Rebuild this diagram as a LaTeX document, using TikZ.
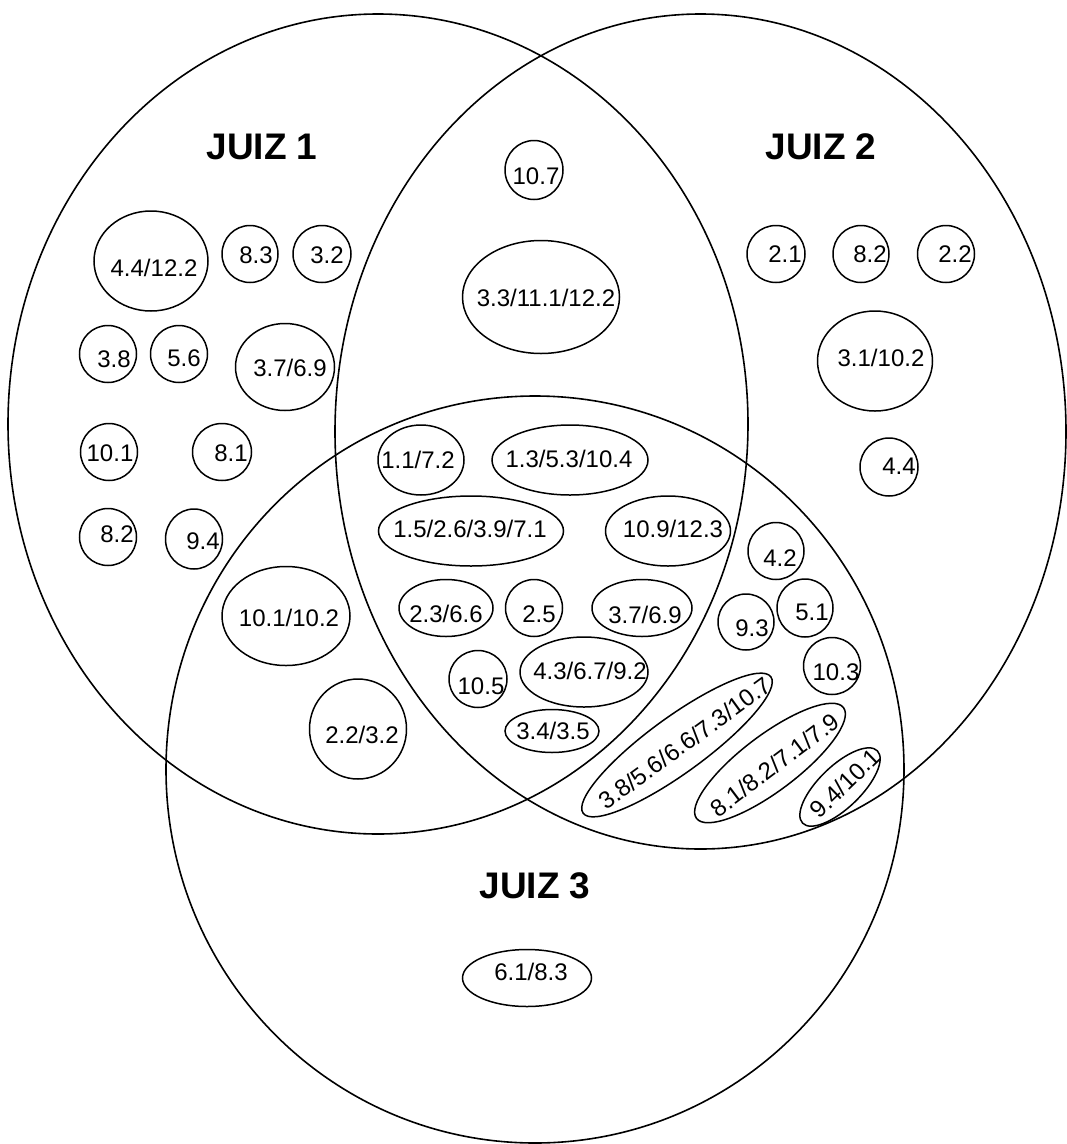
\documentclass[tikz,border=0pt]{standalone}
\usepackage{fontspec}
\setmainfont{Liberation Sans}
\usetikzlibrary{shapes.geometric}
\tikzset{
  bigset/.style={draw, ellipse, line width=1.6pt, inner sep=0pt, outer sep=0pt},
  bubble/.style={draw, ellipse, line width=1.5pt, inner sep=0pt, outer sep=0pt},
  lbl/.style={inner sep=0pt, font=\fontsize{24}{28}\selectfont},
  judge/.style={inner sep=0pt, font=\fontsize{37}{44}\selectfont\bfseries},
}
\newcommand\bub[8]{%
  \node[bubble, minimum width=#4pt, minimum height=#5pt] (#1) at (#2,#3) {};
  \node[lbl] (#1t) at (#6,#7) {#8};
}
\newcommand\rbub[9]{% name, cx, cy, w, h, angle, tx, ty, text
  \node[bubble, rotate=#6, minimum width=#4pt, minimum height=#5pt] (#1) at (#2,#3) {};
  \node[lbl, rotate=#6] (#1t) at (#7,#8) {#9};
}
\begin{document}
\begin{tikzpicture}[x=1pt,y=-1pt]
\fill[white] (0,0) rectangle (1067,1144);
\useasboundingbox (0,0) rectangle (1067,1144);
% three judges
\node[bigset, minimum width=740pt, minimum height=820pt] (J1) at (378,424) {};
\node[bigset, minimum width=731pt, minimum height=835pt] (J2) at (700.5,431.5) {};
\node[bigset, minimum width=738pt, minimum height=747pt] (J3) at (535,769.5) {};
\node[judge] (J1t) at (262,147) {JUIZ 1};
\node[judge] (J2t) at (821,147) {JUIZ 2};
\node[judge] (J3t) at (535,886) {JUIZ 3};
% JUIZ 1 only
\bub{a1}{151}{261}{114}{100}{154}{268}{4.4/12.2}
\bub{a2}{250}{254}{56}{57}{256}{255}{8.3}
\bub{a3}{322}{254}{58}{57}{327}{255}{3.2}
\bub{a4}{108}{354}{57}{57}{114}{359}{3.8}
\bub{a5}{179}{354}{57}{57}{184}{358}{5.6}
\bub{a6}{285}{367}{99}{87}{290}{368}{3.7/6.9}
\bub{a7}{109}{452}{57}{57}{110}{453}{10.1}
\bub{a8}{222}{452}{59}{57}{231}{453}{8.1}
\bub{a9}{108}{537}{57}{57}{117}{534}{8.2}
\bub{a10}{194}{539}{57}{60}{203}{541}{9.4}
% JUIZ 1 and 2
\bub{b1}{534}{170}{58}{59}{536}{176}{10.7}
\bub{b2}{541}{297}{157}{113}{546}{298}{3.3/11.1/12.2}
% JUIZ 2 only
\bub{c1}{776}{254}{58}{57}{785}{254}{2.1}
\bub{c2}{861}{254}{56}{57}{870}{254}{8.2}
\bub{c3}{946}{254}{57}{57}{955}{254}{2.2}
\bub{c4}{875}{361}{115}{100}{881}{358}{3.1/10.2}
\bub{c5}{889}{467}{58}{58}{899}{466}{4.4}
% all three
\bub{d1}{421}{460}{86}{70}{418}{460}{1.1/7.2}
\bub{d2}{570}{460}{156}{70}{569}{459}{1.3/5.3/10.4}
\bub{d3}{471}{531}{185}{70}{470}{529}{1.5/2.6/3.9/7.1}
\bub{d4}{668}{531}{125}{70}{673}{529}{10.9/12.3}
\bub{d5}{446}{608}{94}{57}{446}{614}{2.3/6.6}
\bub{d6}{534}{608}{57}{57}{539}{614}{2.5}
\bub{d7}{642}{608}{100}{57}{645}{615}{3.7/6.9}
\bub{d8}{478}{679}{58}{57}{481}{686}{10.5}
\bub{d9}{584}{672}{128}{70}{590}{671}{4.3/6.7/9.2}
\bub{d10}{552}{731}{94}{43}{553}{731}{3.4/3.5}
% JUIZ 1 and 3
\bub{e1}{286}{616}{128}{99}{289}{618}{10.1/10.2}
\bub{e2}{358}{729}{97}{100}{362}{735}{2.2/3.2}
% JUIZ 2 and 3
\bub{f1}{776}{551}{56}{57}{780}{558}{4.2}
\bub{f2}{746}{622}{56}{56}{752}{628}{9.3}
\bub{f3}{805}{608}{56}{58}{812}{612}{5.1}
\bub{f4}{832}{666}{57}{57}{836}{672}{10.3}
\rbub{f5}{677}{745}{232}{56}{36}{685}{743}{3.8/5.6/6.6/7.3/10.7}
\rbub{f6}{770}{763}{184}{56}{37}{775}{765}{8.1/8.2/7.1/7.9}
\rbub{f7}{840}{787}{104}{42}{44}{845}{783}{9.4/10.1}
% JUIZ 3 only
\bub{g1}{527}{978}{129}{57}{531}{972}{6.1/8.3}
\end{tikzpicture}
\end{document}
